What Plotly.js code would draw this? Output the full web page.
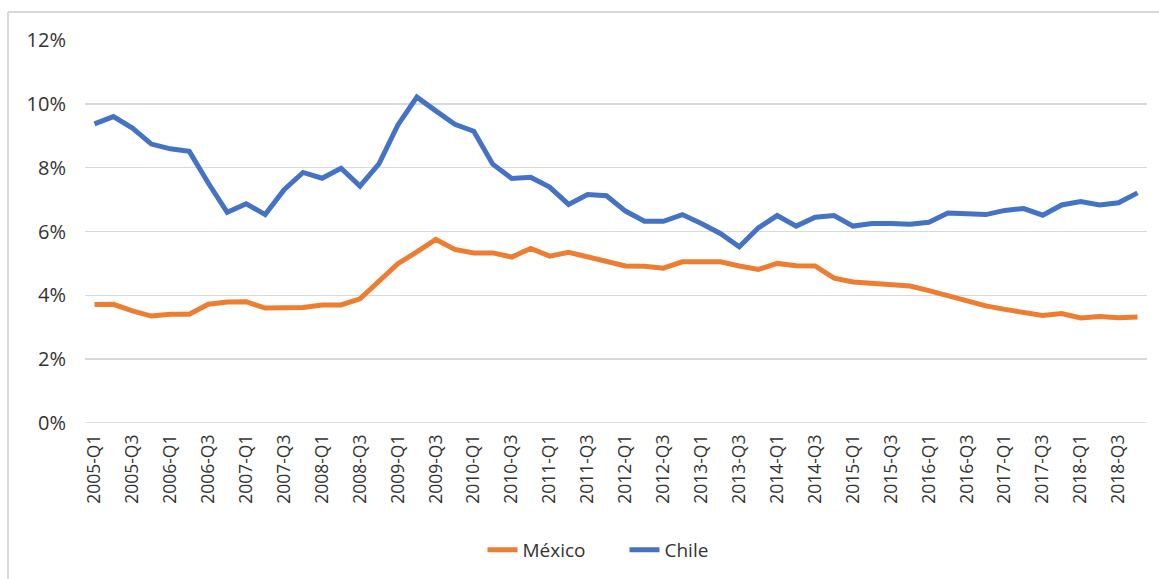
<!DOCTYPE html>
<html>
<head>
<meta charset="utf-8">
<script src="https://cdn.plot.ly/plotly-3.0.1.min.js"></script>
<style>
  html, body { margin: 0; padding: 0; background: #ffffff; }
  #chart { width: 1159px; height: 579px; }
</style>
</head>
<body>
<div id="chart"></div>
<script>
const quarters = [
  "2005-Q1","2005-Q2","2005-Q3","2005-Q4",
  "2006-Q1","2006-Q2","2006-Q3","2006-Q4",
  "2007-Q1","2007-Q2","2007-Q3","2007-Q4",
  "2008-Q1","2008-Q2","2008-Q3","2008-Q4",
  "2009-Q1","2009-Q2","2009-Q3","2009-Q4",
  "2010-Q1","2010-Q2","2010-Q3","2010-Q4",
  "2011-Q1","2011-Q2","2011-Q3","2011-Q4",
  "2012-Q1","2012-Q2","2012-Q3","2012-Q4",
  "2013-Q1","2013-Q2","2013-Q3","2013-Q4",
  "2014-Q1","2014-Q2","2014-Q3","2014-Q4",
  "2015-Q1","2015-Q2","2015-Q3","2015-Q4",
  "2016-Q1","2016-Q2","2016-Q3","2016-Q4",
  "2017-Q1","2017-Q2","2017-Q3","2017-Q4",
  "2018-Q1","2018-Q2","2018-Q3","2018-Q4"
];

const tickLabels = [
  "2005-Q1","2005-Q3","2006-Q1","2006-Q3","2007-Q1","2007-Q3",
  "2008-Q1","2008-Q3","2009-Q1","2009-Q3","2010-Q1","2010-Q3",
  "2011-Q1","2011-Q3","2012-Q1","2012-Q3","2013-Q1","2013-Q3",
  "2014-Q1","2014-Q3","2015-Q1","2015-Q3","2016-Q1","2016-Q3",
  "2017-Q1","2017-Q3","2018-Q1","2018-Q3"
];

// values in percent
const mexico = [
  3.71, 3.72, 3.51, 3.35, 3.41, 3.41, 3.72, 3.79,
  3.80, 3.60, 3.61, 3.62, 3.70, 3.70, 3.89, 4.42,
  4.99, 5.36, 5.75, 5.44, 5.33, 5.33, 5.20, 5.47,
  5.23, 5.35, 5.20, 5.07, 4.92, 4.91, 4.85, 5.05,
  5.05, 5.05, 4.92, 4.81, 5.00, 4.93, 4.92, 4.54,
  4.42, 4.37, 4.31, 4.29, 4.15, 3.98, 3.82, 3.67,
  3.56, 3.48, 3.37, 3.43, 3.29, 3.34, 3.30, 3.32
];

const chile = [
  9.37, 9.60, 9.24, 8.74, 8.59, 8.51, 7.52, 6.60,
  6.87, 6.53, 7.31, 7.85, 7.67, 7.98, 7.42, 8.12,
  9.34, 10.21, 9.78, 9.36, 9.14, 8.11, 7.66, 7.70,
  7.39, 6.85, 7.16, 7.12, 6.64, 6.32, 6.32, 6.53,
  6.25, 5.94, 5.52, 6.11, 6.50, 6.17, 6.45, 6.50,
  6.17, 6.25, 6.25, 6.23, 6.29, 6.58, 6.56, 6.53,
  6.66, 6.72, 6.51, 6.83, 6.94, 6.83, 6.90, 7.21
];

const yTickVals = [0, 2, 4, 6, 8, 10, 12];
const yTickText = ["0%", "2%", "4%", "6%", "8%", "10%", "12%"];

const FONT = "Open Sans, Noto Sans, sans-serif";
const TEXT = "#333333";
const GRID = "#d9d9d9";

const traces = [
  {
    type: "scatter", mode: "lines", name: "México",
    x: quarters, y: mexico,
    line: { color: "#ED7D31", width: 5 }
  },
  {
    type: "scatter", mode: "lines", name: "Chile",
    x: quarters, y: chile,
    line: { color: "#4472C4", width: 5 }
  }
];

const layout = {
  width: 1159, height: 579,
  paper_bgcolor: "#ffffff", plot_bgcolor: "#ffffff",
  margin: { l: 85, r: 12, t: 40, b: 155 },
  font: { family: FONT, size: 18, color: TEXT },
  showlegend: true,
  legend: {
    orientation: "h", x: 0.508, xanchor: "center", y: -0.328, yanchor: "middle",
    font: { family: FONT, size: 19, color: TEXT },
    entrywidth: 97,
    bgcolor: "rgba(0,0,0,0)"
  },
  xaxis: {
    type: "category",
    categoryorder: "array", categoryarray: quarters,
    tickmode: "array", tickvals: tickLabels, ticktext: tickLabels,
    tickangle: -90,
    ticks: "", showgrid: false, zeroline: false,
    showline: false,
    ticklabelstandoff: 7,
    tickfont: { family: FONT, size: 17.5, color: TEXT },
    range: [-0.5, quarters.length - 0.5],
    fixedrange: true
  },
  yaxis: {
    range: [0, 12],
    tickmode: "array", tickvals: yTickVals, ticktext: yTickText,
    showgrid: true, gridcolor: GRID, gridwidth: 1.5,
    zeroline: false, showline: false, ticks: "",
    ticklabelstandoff: 18,
    tickfont: { family: FONT, size: 20, color: TEXT },
    fixedrange: true
  },
  shapes: [
    { type: "line", xref: "paper", yref: "paper", x0: -0.0725, x1: -0.0725, y0: 1.0729, y1: -0.45,
      line: { color: GRID, width: 2 }, layer: "below" },
    { type: "line", xref: "paper", yref: "paper", x0: -0.0725, x1: 1.05, y0: 1.0729, y1: 1.0729,
      line: { color: GRID, width: 2 }, layer: "below" },
    { type: "line", xref: "paper", yref: "y", x0: 0, x1: 1, y0: 0, y1: 0,
      line: { color: GRID, width: 1.5 }, layer: "below" }
  ]
};

Plotly.newPlot("chart", traces, layout, { staticPlot: true, displayModeBar: false });
</script>
</body>
</html>
